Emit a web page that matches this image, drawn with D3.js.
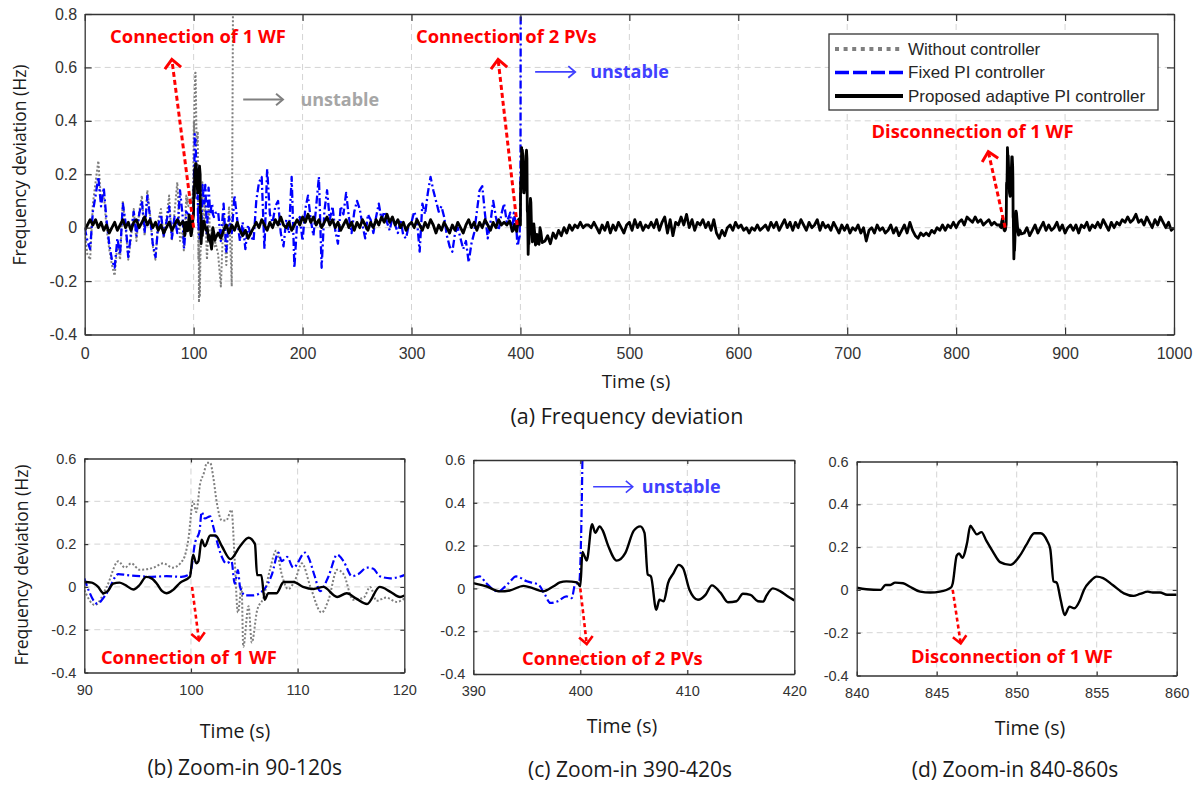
<!DOCTYPE html>
<html><head><meta charset="utf-8">
<script src="https://cdn.jsdelivr.net/npm/d3@7"></script>
<style>body{margin:0;background:#fff;}</style>
</head><body>
<svg id="c" width="1204" height="785"></svg>
<script>
// ---------------- DATA ----------------
// main chart coarse samples (step 2.5 s), Hz
const STEP = 2.5;
const blackSeg1Start = 0;
const blackSeg1 = [-0.01,0.01,0.03,0.01,0.03,0.00,0.02,-0.01,0.01,-0.02,0.00,0.02,-0.01,0.01,0.03,0.00,0.02,-0.01,0.02,0.03,0.00,0.02,0.04,0.01,0.03,0.00,0.02,-0.01,0.01,-0.02,0.00,0.02,-0.01,0.01,0.03,0.01];
const blackSeg2Start = 122.5;
const blackSeg2 = [-0.02,-0.04,-0.01,0.01,-0.02,0.01,-0.01,0.02,-0.01,-0.03,
 -0.01,-0.04,-0.02,0.00,0.02,0.00,0.03,0.01,-0.01,0.02,
 0.00,0.03,0.01,0.04,0.01,0.00,0.02,-0.01,0.01,0.03,
 0.01,0.04,0.02,0.05,0.02,0.04,0.01,0.03,0.00,0.02,
 0.04,0.01,0.03,0.00,0.02,-0.01,0.01,0.03,0.00,0.02,
 -0.01,0.02,0.00,0.03,0.01,-0.01,0.02,0.00,0.03,0.01,
 0.04,0.02,0.05,0.02,0.04,0.01,0.03,0.00,0.02,-0.01,
 0.01,0.02,0.00,0.03,0.01,-0.01,0.02,0.00,0.03,0.01,
 -0.02,0.01,-0.01,0.02,0.00,-0.02,0.01,-0.01,0.02,0.00,
 -0.02,0.01,0.03,0.00,0.02,-0.01,0.02,0.00,0.03,0.01,
 -0.01,0.02,0.00,0.03,0.01,0.02,0.01];
const blackSeg3Start = 422.5;
const blackSeg3 = [-0.05,-0.03,-0.06,-0.02,-0.04,-0.01,-0.03,0.00,-0.02,0.01,
 -0.01,0.01,0.00,0.02,0.00,0.01,0.01,0.00,0.02,0.00,
 -0.02,0.01,-0.01,0.02,-0.02,0.01,-0.01,0.02,0.00,-0.02,
 0.01,0.02,-0.01,0.03,0.00,0.02,-0.01,0.01,0.00,0.02,
 0.00,0.03,-0.01,0.02,0.04,-0.02,0.03,-0.03,0.02,0.01,
 0.04,0.01,0.05,0.00,0.03,-0.01,0.02,0.01,0.03,0.00,
 0.02,-0.01,0.03,-0.02,-0.04,-0.01,-0.03,0.00,0.01,-0.01,
 0.02,0.00,0.01,-0.01,0.00,-0.02,0.00,-0.01,0.01,-0.01,
 0.00,0.01,-0.01,0.02,0.00,0.02,-0.01,0.01,0.03,0.00,
 0.02,-0.01,0.02,0.00,0.03,0.01,-0.01,0.02,0.00,0.01,
 0.03,-0.01,0.02,0.00,0.01,-0.01,0.02,0.00,-0.02,0.01,
 -0.01,0.01,-0.02,0.00,-0.01,0.01,-0.02,0.00,-0.05,-0.01,
 0.00,-0.02,0.01,-0.01,0.00,-0.02,-0.01,0.01,-0.02,0.00,
 -0.03,-0.01,0.01,-0.02,0.02,-0.01,-0.03,-0.04,-0.02,-0.03,
 -0.02,-0.03,-0.01,-0.02,0.00,-0.01,0.01,-0.01,0.01,0.00,
 0.02,0.00,0.02,0.03,0.01,0.04,0.03,0.02,0.04,0.02,
 0.03,0.01,0.02,0.03,0.01,0.02,0.01];
const blackSeg4Start = 862.5;
const blackSeg4 = [-0.02,0.00,-0.03,-0.01,0.01,-0.02,0.00,0.02,-0.01,0.01,
 -0.01,0.00,0.02,-0.01,0.01,-0.02,0.00,0.01,-0.01,0.01,
 -0.02,0.01,0.00,0.02,-0.01,0.01,0.00,0.02,0.00,0.03,
 0.01,-0.01,0.02,0.00,0.02,0.01,0.03,0.02,0.04,0.02,
 0.03,0.05,0.02,0.03,0.01,0.04,0.02,0.00,0.03,0.01,
 0.04,0.02,0.00,0.02,-0.01,0.00];

const blueSeg1Start = 0;
const blueSeg1 = [0.00,-0.05,-0.08,0.06,0.12,0.19,0.08,0.15,0.03,-0.06,-0.12,-0.15,-0.04,-0.10,0.09,0.02,-0.11,-0.02,0.06,-0.03,0.05,0.10,-0.02,0.12,0.04,-0.06,-0.11,0.01,0.05,-0.03,0.02,0.08,-0.04,0.04,-0.02,0.14];
const blueSeg2Start = 122.5;
const blueSeg2 = [0.06,-0.05,0.09,-0.09,0.04,-0.02,0.12,0.03,-0.05,0.02,
 -0.08,0.01,-0.03,-0.05,0.10,0.17,0.19,-0.08,0.22,0.05,
 0.02,0.08,0.10,-0.02,-0.07,0.03,-0.02,0.19,-0.15,0.02,
 0.04,-0.05,0.07,0.12,0.03,-0.03,0.08,0.19,-0.15,0.06,
 0.14,0.03,0.08,-0.01,-0.06,0.08,0.05,0.13,0.04,-0.02,
 0.06,0.10,0.07,0.01,-0.04,0.05,0.03,-0.02,0.04,0.09,
 0.03,0.06,0.02,-0.01,0.04,0.01,-0.02,0.03,-0.03,-0.04,
 0.01,0.02,0.06,0.03,-0.09,0.09,0.05,0.13,0.19,0.14,
 0.10,0.06,0.08,0.04,-0.03,-0.07,-0.09,-0.02,0.00,-0.04,
 -0.08,-0.05,-0.13,-0.06,-0.02,0.06,0.14,0.155,0.05,-0.04,
 0.02,0.10,0.04,-0.01,0.05,0.09,0.02];

const graySeg1Start = 0;
const graySeg1 = [-0.02,-0.10,-0.12,0.09,0.17,0.25,0.10,0.13,0.00,-0.08,-0.14,-0.18,-0.06,-0.12,0.10,0.00,-0.12,-0.04,0.07,-0.05,0.06,0.12,-0.03,0.14,0.05,-0.07,-0.12,0.03,0.07,-0.04,0.03,0.12,-0.05,0.06,0.17,-0.05];
const grayTail = [[122.5,-0.10],[125,-0.22],[127.5,0.05],[130,-0.14],[132.5,0.08],[135,-0.22],[136.3,1.0]];

// zoom (b) 90-120 s : [time, Hz]
const zbBlack = [[90,0.023],[90.7,0.02],[91.3,0.0],[91.8,-0.03],[92.2,-0.02],[92.7,0.015],[93.3,0.02],[93.8,0.01],[94.6,-0.012],[95.2,0.01],[95.8,0.047],[96.3,0.04],[96.8,0.015],[97.3,-0.02],[97.7,-0.03],[98.3,-0.015],[99.0,0.02],[99.9,0.047],[100.2,0.15],[100.5,0.11],[100.7,0.12],[101,0.22],[101.3,0.19],[101.8,0.24],[102.3,0.24],[102.9,0.19],[103.7,0.13],[104.6,0.19],[105.4,0.23],[106,0.2],[106.2,0.055],[106.6,0.055],[106.9,-0.06],[107.25,-0.03],[108,-0.03],[108.7,0.023],[109.6,0.023],[110.5,0.0],[111.5,-0.01],[112.4,0.0],[113.7,-0.047],[114.6,-0.03],[115.5,-0.055],[116.5,-0.08],[117.7,0.0],[118.7,-0.023],[119.6,-0.047],[120,-0.04]];
const zbBlue = [[90,0.04],[90.4,-0.015],[91.2,-0.078],[92.1,-0.03],[93.2,0.06],[94,0.055],[95.2,0.05],[96.3,0.047],[97.7,0.05],[99.1,0.047],[99.9,0.06],[100.4,0.21],[100.8,0.26],[101,0.35],[101.3,0.32],[101.8,0.33],[102.1,0.28],[102.4,0.22],[102.9,0.14],[103.3,0.11],[103.8,0.12],[104.1,0.015],[104.4,0.078],[104.6,0],[105.1,-0.04],[105.8,-0.04],[106.8,-0.015],[107.6,0.06],[108.2,0.16],[108.5,0.12],[109,0.14],[109.6,0.09],[110.7,0.16],[111,0.14],[111.6,0.05],[112.1,-0.02],[112.9,0.05],[113.7,0.15],[114.3,0.12],[115.1,0.05],[115.7,0.06],[116.5,0.09],[117.1,0.085],[117.7,0.05],[118.7,0.04],[120,0.055]];
const zbGray = [[90,-0.015],[91,-0.085],[92.1,0],[93.2,0.12],[93.8,0.09],[94.4,0.11],[95.2,0.08],[96.5,0.09],[97.4,0.11],[98.3,0.09],[99.3,0.13],[99.75,0.22],[100.2,0.4],[100.5,0.35],[100.85,0.48],[101.2,0.53],[101.5,0.58],[101.8,0.58],[102.1,0.51],[102.4,0.4],[102.9,0.31],[103.3,0.31],[103.8,0.36],[104.1,0.125],[104.4,-0.12],[104.75,0],[104.9,-0.28],[105.4,-0.09],[105.7,-0.26],[106.2,-0.11],[106.8,-0.05],[107.4,0.08],[108,0.17],[108.5,0.06],[109.1,-0.01],[109.75,0.03],[110.4,0.11],[111.2,0],[112.25,-0.12],[112.9,-0.06],[113.7,0.08],[114.3,0.06],[115.2,-0.06],[116.2,-0.05],[116.8,0],[117.4,-0.065],[118.3,-0.05],[119.3,-0.07],[120,-0.055]];

// zoom (c) 390-420 s
const zcBlack = [[390,0.025],[391.2,0.01],[392.5,-0.014],[393.4,-0.01],[394.7,0.012],[395.6,0],[396.5,-0.014],[397.5,0.01],[398.1,0.028],[398.7,0.033],[399.7,0.028],[400,0.01],[400.2,0.17],[400.4,0.15],[400.6,0.13],[401.1,0.3],[401.4,0.26],[401.8,0.29],[402.1,0.27],[402.6,0.2],[403.4,0.13],[404.2,0.165],[405,0.27],[405.6,0.29],[406,0.26],[406.3,0.065],[406.6,0.056],[407.1,-0.1],[407.4,-0.053],[407.8,-0.06],[408.2,0.025],[408.7,0.07],[409.2,0.11],[409.6,0.095],[410.2,-0.006],[411,-0.053],[411.7,-0.03],[412.3,0.014],[413.1,-0.02],[413.8,-0.065],[414.6,-0.06],[415.2,-0.025],[415.9,-0.03],[416.6,-0.06],[417.1,-0.062],[417.4,-0.034],[418,0],[418.7,-0.014],[419.3,-0.034],[420,-0.056]];
const zcBlue = [[390,0.048],[390.6,0.056],[391.2,0.025],[392.3,-0.014],[393.3,0.025],[394,0.056],[395,0.033],[396.1,0.017],[396.7,-0.03],[397.2,-0.068],[397.9,-0.06],[398.7,-0.037],[399.2,-0.045],[399.5,0.017],[399.9,0.03],[400.1,0.3],[400.3,1.0]];

// zoom (d) 840-860 s
const zdBlack = [[840,0.01],[840.6,0.003],[841.5,0],[841.8,0.023],[842.1,0.023],[842.4,0.034],[842.9,0.031],[843.3,0.016],[843.96,-0.008],[844.6,-0.012],[845.2,-0.008],[845.9,0.012],[846,0.03],[846.25,0.16],[846.4,0.17],[846.6,0.15],[846.9,0.22],[847.1,0.3],[847.3,0.28],[847.5,0.26],[847.8,0.27],[848.1,0.23],[848.5,0.18],[848.96,0.13],[849.6,0.117],[850.2,0.16],[850.6,0.21],[851.1,0.265],[851.5,0.265],[851.9,0.23],[852.1,0.19],[852.3,0.04],[852.5,0.034],[852.75,-0.047],[853,-0.117],[853.3,-0.078],[853.6,-0.086],[853.96,-0.047],[854.2,0],[854.6,0.04],[855,0.062],[855.4,0.055],[856,0.023],[856.7,-0.016],[857.3,-0.028],[857.7,-0.019],[858.2,-0.008],[858.5,-0.012],[858.96,-0.012],[859.4,-0.023],[860,-0.023]];

// ticks & labels
const mainXTicks = [0,100,200,300,400,500,600,700,800,900,1000];
const mainYTicks = [-0.4,-0.2,0,0.2,0.4,0.6,0.8];
const zoomYTicks = [-0.4,-0.2,0,0.2,0.4,0.6];
const zbXTicks = [90,100,110,120];
const zcXTicks = [390,400,410,420];
const zdXTicks = [840,845,850,855,860];
const legendLabels = ["Without controller","Fixed PI controller","Proposed adaptive PI controller"];

// ---------------- HELPERS ----------------
const svg = d3.select("#c");
const defs = svg.append("defs");
const AX = "#333";
const FT = "'Liberation Sans', Arial, sans-serif";
const FL = "'Open Sans', sans-serif";
const RED = "#ff0000";
const ANN = 18.4;

const seg = (start, vals) => vals.map((v,i)=>[start + i*STEP, v]);
const outside = (a,b) => d => d[0] < a || d[0] > b;
const mainBlack = [].concat(
  seg(blackSeg1Start, blackSeg1).filter(outside(90,120)), zbBlack,
  seg(blackSeg2Start, blackSeg2).filter(outside(390,420)), zcBlack,
  seg(blackSeg3Start, blackSeg3).filter(outside(840,860)), zdBlack,
  seg(blackSeg4Start, blackSeg4));
const mainBlue = [].concat(seg(blueSeg1Start, blueSeg1).filter(outside(90,120)), zbBlue,
  seg(blueSeg2Start, blueSeg2).filter(outside(390,420)), zcBlue);
const mainGray = [].concat(seg(graySeg1Start, graySeg1).filter(outside(90,120)), zbGray, grayTail);

const fmtY = v => { const r = Math.round(v*10)/10; return r === 0 ? "0" : String(r); };

const STY = {
  gray:  {color:"#7f7f7f", dash:"2,2"},
  blue:  {color:"#0000ff", dash:"8,3,2,3"},
  black: {color:"#000000", dash:null}
};

function panel(p) {
  const x = d3.scaleLinear().domain(p.xDom).range([p.L, p.R]);
  const y = d3.scaleLinear().domain(p.yDom).range([p.B, p.T]);
  const g = svg.append("g");
  defs.append("clipPath").attr("id", "clip"+p.name).append("rect")
    .attr("x", p.L).attr("y", p.T).attr("width", p.R-p.L).attr("height", p.B-p.T);
  const gg = g.append("g").attr("stroke","#d4d4d4").attr("stroke-width",1).attr("stroke-dasharray","6,4");
  gg.selectAll("line.gx").data(p.xTicks.filter(v=>v>p.xDom[0]&&v<p.xDom[1])).join("line")
    .attr("x1",d=>x(d)).attr("x2",d=>x(d)).attr("y1",p.T).attr("y2",p.B);
  gg.selectAll("line.gy").data(p.yTicks.filter(v=>v>p.yDom[0]+1e-9&&v<p.yDom[1]-1e-9)).join("line")
    .attr("y1",d=>y(d)).attr("y2",d=>y(d)).attr("x1",p.L).attr("x2",p.R);
  const lg = g.append("g").attr("clip-path", `url(#clip${p.name})`);
  p.series.forEach(s => {
    lg.append("path").datum(s.data).attr("fill","none")
      .attr("stroke", STY[s.k].color).attr("stroke-width", s.w)
      .attr("stroke-dasharray", STY[s.k].dash).attr("stroke-linejoin","round")
      .attr("d", d3.line().x(d=>x(d[0])).y(d=>y(d[1])).curve(s.curve || d3.curveLinear));
  });
  const ax = (gen, tr) => {
    const a = g.append("g").attr("transform", tr).call(gen);
    a.select(".domain").attr("stroke", AX).attr("stroke-width", 1.3);
    a.selectAll(".tick line").attr("stroke", AX).attr("stroke-width", 1.2);
    a.selectAll("text").attr("fill", AX).style("font-family", FT).style("font-size", p.fs + "px");
    return a;
  };
  ax(d3.axisBottom(x).tickValues(p.xTicks).tickSizeInner(-p.tick).tickSizeOuter(0).tickPadding(p.xPad).tickFormat(d3.format("d")), `translate(0,${p.B})`);
  ax(d3.axisTop(x).tickValues(p.xTicks).tickSizeInner(-p.tick).tickSizeOuter(0).tickFormat(""), `translate(0,${p.T})`);
  ax(d3.axisLeft(y).tickValues(p.yTicks).tickSizeInner(-p.tick).tickSizeOuter(0).tickPadding(p.yPad).tickFormat(fmtY), `translate(${p.L},0)`);
  ax(d3.axisRight(y).tickValues(p.yTicks).tickSizeInner(-p.tick).tickSizeOuter(0).tickFormat(""), `translate(${p.R},0)`);
  return {x, y, g};
}

function arrow(x1,y1,x2,y2,o) {
  const g = svg.append("g").attr("stroke", o.color).attr("fill","none").attr("stroke-width", o.w).attr("stroke-linecap","butt");
  g.append("line").attr("x1",x1).attr("y1",y1).attr("x2",x2).attr("y2",y2).attr("stroke-dasharray", o.dash || null);
  const ang = Math.atan2(y2-y1, x2-x1);
  const pts = [1,-1].map(s => { const a = ang + Math.PI - s*o.half; return [x2 + o.len*Math.cos(a), y2 + o.len*Math.sin(a)]; });
  g.append("path").attr("d", `M${pts[0][0]},${pts[0][1]} L${x2},${y2} L${pts[1][0]},${pts[1][1]}`).attr("stroke-linejoin","miter");
}
function label(x,y,txt,o) {
  return svg.append("text").attr("x",x).attr("y",y).attr("dy","0.35em")
    .attr("text-anchor", o.anchor || "middle").attr("fill", o.color || "#1a1a1a")
    .style("font-family", o.font || FL).style("font-size", o.size + "px")
    .style("font-weight", o.bold ? "bold" : "normal").text(txt);
}

// ---------------- MAIN CHART ----------------
const M = panel({name:"m", xDom:[0,1000], yDom:[-0.4,0.8], L:84.7, R:1174, T:14, B:334.5,
  xTicks: mainXTicks, yTicks: mainYTicks, tick:7, fs:16, xPad:13, yPad:7.5,
  series:[{k:"gray", data: mainGray, w:2},{k:"blue", data: mainBlue, w:2.3},{k:"black", data: mainBlack, w:2.8}]});

// legend
const lgG = svg.append("g");
lgG.append("rect").attr("x",829).attr("y",34).attr("width",329).attr("height",76)
  .attr("fill","#fff").attr("stroke",AX).attr("stroke-width",1.3);
const legSty = [{k:"gray", w:4, dash:"4,4.6"},{k:"blue", w:3.5, dash:"14,4"},{k:"black", w:4, dash:null}];
legendLabels.forEach((t,i) => {
  const yy = 49 + i*23.5;
  lgG.append("line").attr("x1",835).attr("x2",903).attr("y1",yy).attr("y2",yy)
    .attr("stroke", STY[legSty[i].k].color).attr("stroke-width", legSty[i].w).attr("stroke-dasharray", legSty[i].dash);
  lgG.append("text").attr("x",908).attr("y",yy).attr("dy","0.35em").attr("fill","#262626")
    .style("font-family",FT).style("font-size","17px").text(t);
});

// annotations main
arrow(M.x(100), M.y(0), M.x(80), M.y(0.63), {color:RED, w:3, dash:"5,3", len:12, half:0.75});
label(M.x(104), M.y(0.715), "Connection of 1 WF", {color:RED, size:ANN, bold:true});
arrow(M.x(145.5), M.y(0.48), M.x(182), M.y(0.48), {color:"#808080", w:2, len:9, half:0.7});
label(M.x(198), M.y(0.48), "unstable", {color:"#a6a6a6", size:18, bold:true, anchor:"start"});
arrow(M.x(397), M.y(0.01), M.x(379.5), M.y(0.63), {color:RED, w:3, dash:"5,3", len:12, half:0.75});
label(M.x(387), M.y(0.715), "Connection of 2 PVs", {color:RED, size:ANN, bold:true});
arrow(M.x(413.5), M.y(0.583), M.x(450.3), M.y(0.583), {color:"#4040ff", w:1.8, len:9, half:0.7});
label(M.x(464), M.y(0.583), "unstable", {color:"#4040ff", size:18, bold:true, anchor:"start"});
arrow(M.x(845), M.y(0), M.x(829.5), M.y(0.285), {color:RED, w:3, dash:"5,3", len:12, half:0.75});
label(M.x(815), M.y(0.36), "Disconnection of 1 WF", {color:RED, size:ANN, bold:true});

svg.append("text").attr("transform","translate(20,165) rotate(-90)").attr("dy","0.35em")
  .attr("text-anchor","middle").attr("fill","#1a1a1a").style("font-family",FL).style("font-size","17.5px")
  .text("Frequency deviation (Hz)");
label(636, 381, "Time (s)", {size:19});
label(627, 416, "(a) Frequency deviation", {size:21.5});

// ---------------- ZOOM PANELS ----------------
const zcfg = {yDom:[-0.4,0.6], yTicks: zoomYTicks, tick:4, fs:14.5, xPad:12, yPad:8};
const B = panel(Object.assign({}, zcfg, {name:"b", xDom:[90,120], L:84.3, R:404.3, T:458.5, B:672.5, xTicks: zbXTicks,
  series:[{k:"gray", data: zbGray, w:2, curve:d3.curveMonotoneX},{k:"blue", data: zbBlue, w:2.2, curve:d3.curveMonotoneX},{k:"black", data: zbBlack, w:2.4, curve:d3.curveMonotoneX}]}));
const C = panel(Object.assign({}, zcfg, {name:"cc", xDom:[390,420], L:473.3, R:794.3, T:460, B:674, xTicks: zcXTicks,
  series:[{k:"blue", data: zcBlue, w:2.2, curve:d3.curveMonotoneX},{k:"black", data: zcBlack, w:2.4, curve:d3.curveMonotoneX}]}));
const D = panel(Object.assign({}, zcfg, {name:"d", xDom:[840,860], L:856.7, R:1176.7, T:461.5, B:675.5, xTicks: zdXTicks,
  series:[{k:"black", data: zdBlack, w:2.4, curve:d3.curveMonotoneX}]}));

svg.append("text").attr("transform","translate(21.5,565) rotate(-90)").attr("dy","0.35em")
  .attr("text-anchor","middle").attr("fill","#1a1a1a").style("font-family",FL).style("font-size","17.5px")
  .text("Frequency deviation (Hz)");

arrow(B.x(100.1), B.y(0), B.x(100.75), B.y(-0.25), {color:RED, w:2.6, dash:"4,3", len:10, half:0.75});
label(B.x(99.8), B.y(-0.33), "Connection of 1 WF", {color:RED, size:ANN, bold:true});
arrow(C.x(400), C.y(0), C.x(400.6), C.y(-0.26), {color:RED, w:2.6, dash:"4,3", len:10, half:0.75});
label(C.x(403), C.y(-0.33), "Connection of 2 PVs", {color:RED, size:ANN, bold:true});
arrow(C.x(401.2), C.y(0.475), C.x(404.9), C.y(0.475), {color:"#4040ff", w:1.6, len:9, half:0.7});
label(C.x(405.75), C.y(0.475), "unstable", {color:"#4040ff", size:18, bold:true, anchor:"start"});
arrow(D.x(846), D.y(0), D.x(846.5), D.y(-0.25), {color:RED, w:2.6, dash:"4,3", len:10, half:0.75});
label(D.x(849.7), D.y(-0.31), "Disconnection of 1 WF", {color:RED, size:ANN, bold:true});

label(235, 731, "Time (s)", {size:19.5});
label(622, 726, "Time (s)", {size:19.5});
label(1030, 728, "Time (s)", {size:19.5});
label(244.7, 768, "(b) Zoom-in 90-120s", {size:21});
label(630, 770, "(c) Zoom-in 390-420s", {size:21});
label(1015, 770, "(d) Zoom-in 840-860s", {size:21});
</script>
</body></html>
